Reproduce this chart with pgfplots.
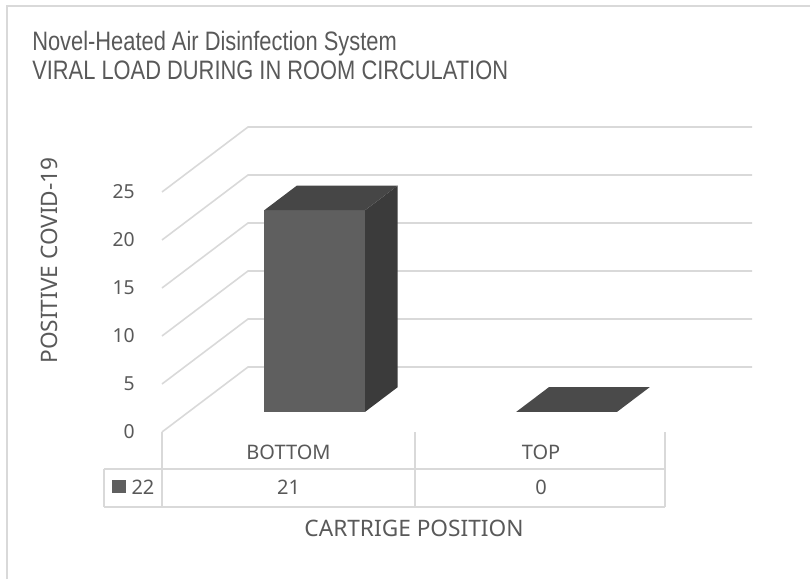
\documentclass[border=0pt]{standalone}
\usepackage{pgfplots}
\pgfplotsset{compat=1.18}
\usepackage{fontspec}
\setmainfont{Noto Sans}
\newfontfamily\titlefont[FakeStretch=0.82]{Liberation Sans}
\definecolor{txt}{HTML}{595959}
\definecolor{gridc}{HTML}{D9D9D9}
\definecolor{frontc}{HTML}{5F5F5F}
\definecolor{topc}{HTML}{464646}
\definecolor{sidec}{HTML}{3B3B3B}
\definecolor{flatc}{HTML}{4A4A4A}
\begin{document}
\begin{tikzpicture}
\begin{axis}[
  hide axis,
  x={(189pt,0pt)}, y={(64.5pt,48.75pt)}, z={(0pt,7.2pt)},
  xmin=0, xmax=2, ymin=0, ymax=1, zmin=0, zmax=25,
  clip=false,
]
% walls gridlines (value levels)
\pgfplotsinvokeforeach{0,5,10,15,20,25}{
  \addplot3[gridc, line width=1.2pt, mark=none] coordinates {(0,0,#1) (0,1,#1) (2,1,#1)};
  \node[anchor=east, text=txt, font=\fontsize{14.5}{16}\selectfont, xshift=-17pt] at (axis cs:0,0,#1) {#1};
}
% BOTTOM = 21
\addplot3[fill=frontc, draw=none, mark=none] coordinates {(0.3,0.31,0) (0.7,0.31,0) (0.7,0.31,21) (0.3,0.31,21)};
\addplot3[fill=sidec, draw=none, mark=none] coordinates {(0.7,0.31,0) (0.7,0.69,0) (0.7,0.69,21) (0.7,0.31,21)};
\addplot3[fill=topc, draw=none, mark=none] coordinates {(0.3,0.31,21) (0.7,0.31,21) (0.7,0.69,21) (0.3,0.69,21)};
% TOP = 0
\addplot3[fill=flatc, draw=none, mark=none] coordinates {(1.3,0.31,0) (1.7,0.31,0) (1.7,0.69,0) (1.3,0.69,0)};
\coordinate (O) at (axis cs:0,0,0);
\end{axis}
\begin{scope}[shift={(O)}, x=0.75pt, y=-0.75pt]
  % data table
  \draw[gridc, line width=1.2pt] (0,0) -- (0,75) (253,0) -- (253,75) (503,0) -- (503,75)
     (-58,37) -- (503,37) (-58,75) -- (503,75) (-58,37) -- (-58,75);
  \node[text=txt, font=\fontsize{15}{17}\selectfont] at (126.5,20) {BOTTOM};
  \node[text=txt, font=\fontsize{15}{17}\selectfont] at (379,20) {TOP};
  \node[text=txt, font=\fontsize{15}{17}\selectfont] at (126.5,55) {21};
  \node[text=txt, font=\fontsize{15}{17}\selectfont] at (379,55) {0};
  \fill[frontc] (-50,48) rectangle (-36,61);
  \node[text=txt, font=\fontsize{15}{17}\selectfont] at (-19,55) {22};
  % axis titles
  \node[text=txt, font=\fontsize{17}{20}\selectfont] at (252,96) {CARTRIGE POSITION};
  \node[text=txt, font=\fontsize{17}{20}\selectfont, rotate=90] at (-113,-171.5) {POSITIVE COVID-19};
  % chart title
  \node[anchor=base west, inner sep=0pt, text=txt, font=\titlefont\fontsize{20}{24}\selectfont] at (-130,-381) {Novel-Heated Air Disinfection System};
  \node[anchor=base west, inner sep=0pt, text=txt, font=\titlefont\fontsize{20}{24}\selectfont] at (-130,-352) {VIRAL LOAD DURING IN ROOM CIRCULATION};
  % chart frame
  \draw[gridc, line width=1pt] (-155,147) -- (-155,-426) -- (648,-426);
  \pgfresetboundingbox
  \useasboundingbox (-162,-432) rectangle (648,147);
\end{scope}
\end{tikzpicture}
\end{document}
